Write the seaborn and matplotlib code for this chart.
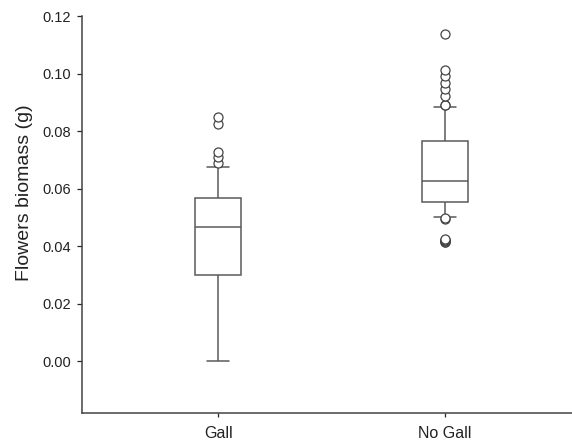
import pandas as pd
import matplotlib.pyplot as plt
import seaborn as sns

sns.set_style('ticks')
plt.rcParams['font.family'] = ['Liberation Sans', 'DejaVu Sans']

# Flowers biomass per plant (g)
gall = [0.000, 0.000, 0.000, 0.000, 0.000, 0.000, 0.004, 0.009, 0.013, 0.018,
        0.022, 0.026, 0.0298, 0.0298, 0.031, 0.033, 0.035, 0.036, 0.038, 0.040,
        0.041, 0.043, 0.044, 0.045, 0.0465, 0.0465, 0.048, 0.049, 0.050, 0.051,
        0.052, 0.053, 0.054, 0.055, 0.0555, 0.056, 0.0569, 0.0569, 0.058, 0.060,
        0.061, 0.063, 0.065, 0.066, 0.0676, 0.069, 0.071, 0.0728, 0.0826, 0.085]

no_gall = [0.0413, 0.0415, 0.0418, 0.0420, 0.0422, 0.0425, 0.0495, 0.0497, 0.0503, 0.0510,
           0.0518, 0.0524, 0.0530, 0.0535, 0.0538, 0.0541, 0.0544, 0.0547, 0.0550, 0.0552,
           0.0552, 0.0555, 0.0558, 0.0562, 0.0566, 0.0570, 0.0574, 0.0578, 0.0582, 0.0586,
           0.0590, 0.0594, 0.0598, 0.0602, 0.0606, 0.0610, 0.0614, 0.0618, 0.0622, 0.0628,
           0.0628, 0.0634, 0.0640, 0.0646, 0.0652, 0.0658, 0.0664, 0.0670, 0.0676, 0.0682,
           0.0688, 0.0694, 0.0700, 0.0708, 0.0716, 0.0724, 0.0732, 0.0742, 0.0754, 0.0767,
           0.0767, 0.0772, 0.0778, 0.0784, 0.0790, 0.0800, 0.0810, 0.0822, 0.0838, 0.0852,
           0.0868, 0.0884, 0.0889, 0.0891, 0.0923, 0.0947, 0.0968, 0.0992, 0.1013, 0.1138]

groups = ['Gall', 'No Gall']
y_ticks = [0.00, 0.02, 0.04, 0.06, 0.08, 0.10, 0.12]

df = pd.DataFrame({
    'group': ['Gall'] * len(gall) + ['No Gall'] * len(no_gall),
    'biomass': gall + no_gall,
})

fig = plt.figure(figsize=(5.72, 4.42), dpi=100)
ax = fig.add_axes([0.1434, 0.0656, 0.8566, 0.8982])

line_col = '#5a5a5a'
sns.boxplot(data=df, x='group', y='biomass', order=groups, ax=ax,
            whis=(10, 90), width=0.2, color='white', linecolor=line_col,
            linewidth=1.1,
            flierprops=dict(marker='o', markerfacecolor='white',
                            markeredgecolor='#444444', markersize=6.5,
                            markeredgewidth=0.9))

ax.set_xlim(-0.6, 1.56)
ax.set_ylim(-0.018, 0.12)
ax.set_yticks(y_ticks)
ax.set_yticklabels([f'{v:.2f}' for v in y_ticks])
ax.set_xlabel('')
ax.set_ylabel('Flowers biomass (g)', fontsize=14, color='#222222')
ax.yaxis.set_label_coords(-0.1, 0.554)
ax.tick_params(axis='y', labelsize=10.5, length=3.6, width=0.9, pad=4.3)
ax.tick_params(axis='x', labelsize=11.5, length=3, width=0.9, pad=6.5)
for lab in ax.get_xticklabels() + ax.get_yticklabels():
    lab.set_color('#222222')

sns.despine(ax=ax)
for s in ['left', 'bottom']:
    ax.spines[s].set_color('#444444')
    ax.spines[s].set_linewidth(1.1)

fig.savefig('out.png', dpi=100)
